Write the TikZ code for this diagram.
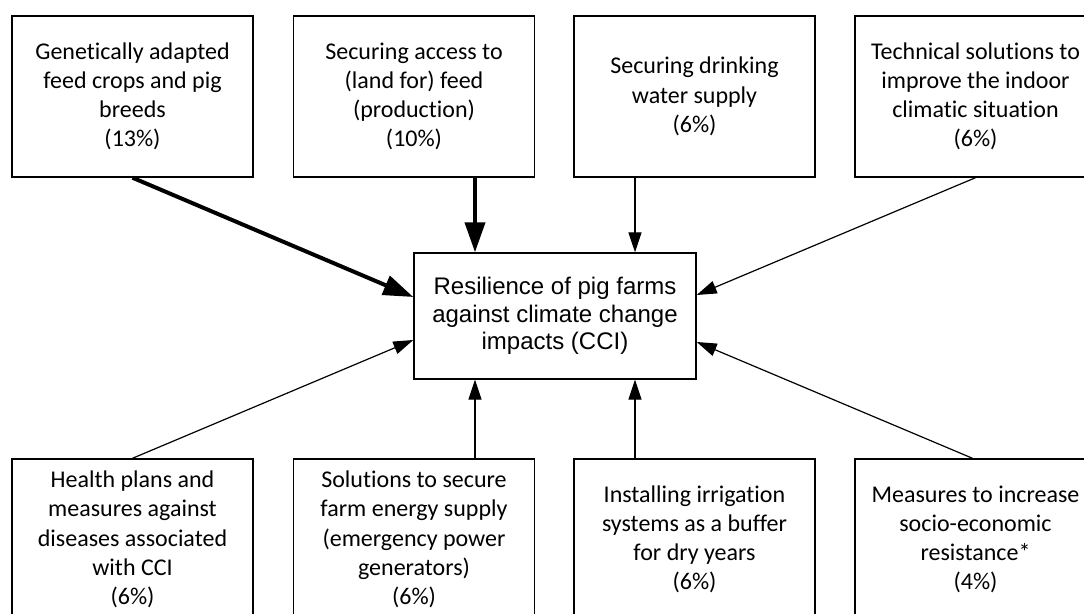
\documentclass[tikz,border=0pt]{standalone}
\usepackage{fontspec}
\setmainfont{Carlito}[Ligatures={NoCommon}]
\newfontfamily\arialfont{Liberation Sans}
\usetikzlibrary{arrows.meta}

\tikzstyle{measure} = [rectangle, minimum width=120.5pt, minimum height=80.5pt,
text centered, align=center, draw=black, line width=0.7pt, font=\fontsize{12}{14.6}\selectfont]
\tikzstyle{target} = [rectangle, minimum width=141pt, minimum height=63pt,
text centered, align=center, draw=black, line width=0.7pt,
font=\arialfont\fontsize{12}{13.8}\selectfont]
\tikzstyle{arrow} = [line width=0.6pt,-{Triangle[length=10pt,width=6.5pt]}]
\tikzstyle{thickarrow} = [line width=2pt,-{Triangle[length=15pt,width=10pt]}]

\begin{document}
\begin{tikzpicture}[x=0.5pt,y=-0.5pt]
  \clip (0,0) rectangle (1084,614);
  %blocks
  \node (res) [target] at (555,316) {Resilience of pig farms\\against climate change\\impacts (CCI)};
  \node (gen) [measure] at (132.5,96.5) {Genetically adapted\\feed crops and pig\\breeds\\(13\%)};
  \node (acc) [measure] at (414,96.5) {Securing access to\\(land for) feed\\(production)\\(10\%)};
  \node (water) [measure] at (694.5,96.5) {Securing drinking\\water supply\\(6\%)};
  \node (tech) [measure] at (975.5,96.5) {Technical solutions to\\improve the indoor\\climatic situation\\(6\%)};
  \node (health) [measure] at (132.5,539.5) {Health plans and\\measures against\\diseases associated\\with CCI\\(6\%)};
  \node (energy) [measure] at (414,539.5) {Solutions to secure\\farm energy supply\\(emergency power\\generators)\\(6\%)};
  \node (irrig) [measure] at (694.5,539.5) {Installing irrigation\\systems as a buffer\\for dry years\\(6\%)};
  \node (socio) [measure] at (975.5,539.5) {Measures to increase\\socio-economic\\resistance*\\(4\%)};
  %connection points
  \coordinate (rnl) at ([xshift=-40pt]res.north);
  \coordinate (rnr) at ([xshift=40pt]res.north);
  \coordinate (rsl) at ([xshift=-40pt]res.south);
  \coordinate (rsr) at ([xshift=40pt]res.south);
  %connections
  % top row -> res
  \draw [thickarrow] (gen.south) -- ([yshift=9.5pt]res.west);
  \draw [thickarrow] (acc.south -| rnl) -- (rnl);
  \draw [arrow] (water.south -| rnr) -- (rnr);
  \draw [arrow] (tech.south) -- ([yshift=10.5pt]res.east);
  % bottom row -> res
  \draw [arrow] (health.north) -- ([yshift=-12pt]res.west);
  \draw [arrow] (energy.north -| rsl) -- (rsl);
  \draw [arrow] (irrig.north -| rsr) -- (rsr);
  \draw [arrow] ([xshift=-1.5pt]socio.north) -- ([yshift=-13pt]res.east);
\end{tikzpicture}
\end{document}
